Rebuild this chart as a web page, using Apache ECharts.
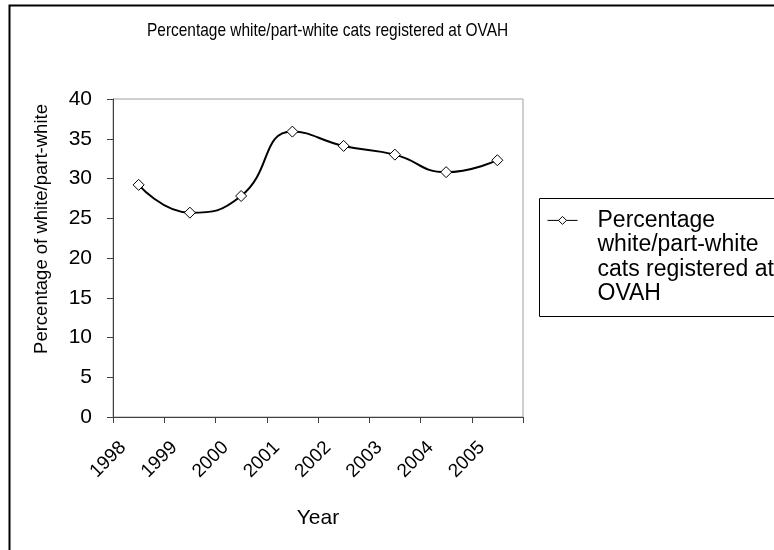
<!DOCTYPE html>
<html>
<head>
<meta charset="utf-8">
<script src="https://cdn.jsdelivr.net/npm/echarts@6/dist/echarts.min.js"></script>
<style>
  html, body { margin: 0; padding: 0; background: #fff; }
  #chart { width: 774px; height: 550px; }
</style>
</head>
<body>
<div id="chart"></div>
<script>
// Registration share of white / part-white cats, by year
const years = ['1998', '1999', '2000', '2001', '2002', '2003', '2004', '2005'];
const whitePct = [29.2, 25.7, 27.8, 35.9, 34.1, 33.0, 30.8, 32.3];
const seriesName = 'Percentage white/part-white cats registered at OVAH';
const chartTitle = 'Percentage white/part-white cats registered at OVAH';
const legendLines = ['Percentage', 'white/part-white', 'cats registered at', 'OVAH'];
const yTicks = { min: 0, max: 40, step: 5 };

const FONT = 'Liberation Sans, Arial, sans-serif';
const LEGEND_LH = 24.4;
const LEGEND_ICON_Y = 220.4;
// blank lines above the label keep the legend symbol level with its first line
const legendText = ['', '', ''].concat(legendLines).join('\n');

const chart = echarts.init(document.getElementById('chart'), null, { renderer: 'canvas' });

chart.setOption({
  backgroundColor: '#fff',
  animation: false,
  graphic: [
    // condensed chart title
    { type: 'text', x: 147, y: 31, scaleX: 0.813, z: 100,
      style: { x: 0, y: 0, text: chartTitle, fill: '#000',
               font: '19px Liberation Sans, Arial, sans-serif',
               align: 'left', verticalAlign: 'middle' } },
    // outer chart frame
    { type: 'rect', shape: { x: 9.5, y: 5.5, width: 780, height: 560 },
      style: { fill: 'none', stroke: '#000', lineWidth: 2 }, z: 100 },
    // legend frame
    { type: 'rect', shape: { x: 539.5, y: 198.5, width: 260, height: 118 },
      style: { fill: 'none', stroke: '#000', lineWidth: 1 }, z: 100 }
  ],
  legend: {
    left: 547,
    top: LEGEND_ICON_Y - 3.5 * LEGEND_LH,
    padding: 0,
    itemWidth: 30,
    itemHeight: 10,
    lineStyle: { width: 1, color: '#000' },
    itemStyle: { borderWidth: 1, borderColor: '#000', color: '#fff' },
    formatter: () => legendText,
    textStyle: {
      fontFamily: FONT, fontSize: 23, color: '#000',
      lineHeight: LEGEND_LH, padding: [0, 0, 0, 15]
    }
  },
  grid: {
    left: 113, top: 99, width: 410, height: 318,
    show: true, borderColor: '#a0a0a0', borderWidth: 1, backgroundColor: '#fff'
  },
  xAxis: {
    type: 'category',
    data: years,
    boundaryGap: true,
    name: 'Year',
    nameLocation: 'middle',
    nameGap: 91,
    nameTextStyle: { fontFamily: FONT, fontSize: 21, color: '#000' },
    axisLine: { lineStyle: { color: '#404040', width: 1 } },
    axisTick: { show: true, length: 6, lineStyle: { color: '#404040' } },
    axisLabel: {
      interval: 0, rotate: 45, margin: 12,
      fontFamily: FONT, fontSize: 19, color: '#000',
      padding: [0, 22, 0, 0]
    },
    splitLine: { show: false }
  },
  yAxis: {
    type: 'value',
    min: yTicks.min, max: yTicks.max, interval: yTicks.step,
    name: 'Percentage of white/part-white',
    nameLocation: 'middle',
    nameRotate: 90,
    nameGap: 62,
    nameTextStyle: { fontFamily: FONT, fontSize: 18.5, color: '#000', padding: [0, 0, 0, 58] },
    axisLine: { show: true, lineStyle: { color: '#404040', width: 1 } },
    axisTick: { show: true, length: 6, lineStyle: { color: '#404040' } },
    axisLabel: { margin: 21, fontFamily: FONT, fontSize: 21, color: '#000' },
    splitLine: { show: false }
  },
  series: [{
    name: seriesName,
    type: 'line',
    data: whitePct,
    smooth: 0.5,
    symbol: 'diamond',
    symbolSize: 11,
    lineStyle: { color: '#000', width: 2 },
    itemStyle: { color: '#fff', borderColor: '#000', borderWidth: 1 }
  }]
});
</script>
</body>
</html>
